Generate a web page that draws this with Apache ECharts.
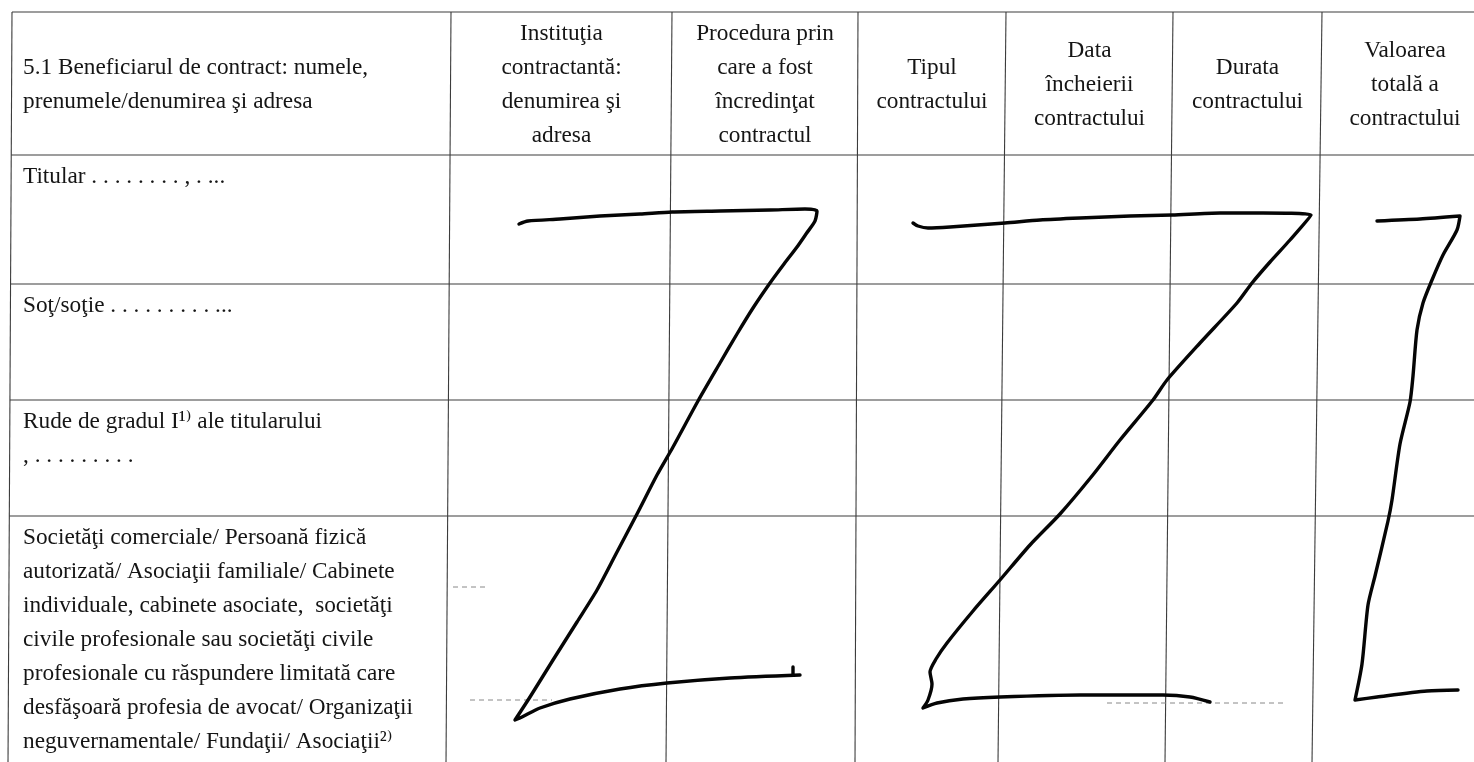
<!DOCTYPE html>
<html><head><meta charset="utf-8">
<script src="https://cdn.jsdelivr.net/npm/echarts@6/dist/echarts.min.js"></script>
<style>html,body{margin:0;padding:0;background:#fff}#c{width:1474px;height:762px}</style>
</head><body><div id="c"></div>
<script>
// ---- table ruling (page units = pixels of the scan) ----
const colEdgesTop    = [12, 451, 672, 858, 1006, 1173, 1322];
const colEdgesBottom = [8, 446, 666, 855, 998, 1165, 1312];
const rowEdges = [12, 155, 284, 400, 516];

// ---- header texts ----
const headerFirst = ['5.1 Beneficiarul de contract: numele,', 'prenumele/denumirea şi adresa'];
const headerCols = [
  ['Instituţia', 'contractantă:', 'denumirea şi', 'adresa'],
  ['Procedura prin', 'care a fost', 'încredinţat', 'contractul'],
  ['Tipul', 'contractului'],
  ['Data', 'încheierii', 'contractului'],
  ['Durata', 'contractului'],
  ['Valoarea', 'totală a', 'contractului']
];
// ---- row labels (first column) ----
const rowLabels = [
  ['Titular . . . . . . . . , . ...'],
  ['Soţ/soţie . . . . . . . . . ...'],
  ['Rude de gradul I¹⁾ ale titularului', ', . . . . . . . . .'],
  ['Societăţi comerciale/ Persoană fizică',
   'autorizată/ Asociaţii familiale/ Cabinete',
   'individuale, cabinete asociate,  societăţi',
   'civile profesionale sau societăţi civile',
   'profesionale cu răspundere limitată care',
   'desfăşoară profesia de avocat/ Organizaţii',
   'neguvernamentale/ Fundaţii/ Asociaţii²⁾']
];

// ---- handwritten "Z" strokes ----
const strokeZ1 = [[519,224],[528,221],[560,219],[600,216],[640,214],[672,212],[720,211],[770,210],[805,209],[817,211],[815,221],[806,234],[797,247],[784,264],[770,283],[753,308],[737,334],[720,363],[698,401],[673,447],[657,475],[637,514],[617,552],[597,590],[577,622],[553,660],[530,697],[515,720],[522,717],[540,708],[570,699],[620,689],[667,683],[730,678],[800,675]];
const strokeZ1Tick = [[793,675],[793,667]];
const strokeZ2 = [[913,223],[918,226],[928,228],[950,227],[1005,223],[1040,220],[1080,218],[1130,216],[1172,215],[1220,213],[1263,213],[1311,215],[1290,240],[1270,262],[1252,283],[1237,303],[1200,343],[1167,380],[1153,400],[1120,440],[1092,476],[1060,514],[1030,545],[1000,580],[973,611],[947,643],[936,659],[930,672],[932,684],[928,700],[923,708],[937,703],[963,699],[1000,697],[1080,695],[1163,695],[1190,697],[1210,702]];
const strokeZ3 = [[1377,221],[1420,219],[1460,216],[1457,230],[1443,255],[1432,280],[1423,303],[1417,330],[1413,376],[1410,402],[1400,444],[1392,500],[1388,521],[1375,576],[1368,605],[1362,664],[1355,700],[1377,697],[1427,691],[1458,690]];
// faint broken ruling fragments visible in the scan
const faintDashes = [[[470,700],[552,700]], [[1107,703],[1283,703]], [[453,587],[487,587]]];

const chart = echarts.init(document.getElementById('c'), null, {renderer: 'canvas'});
const W = 1474, H = 762;
const series = [];
const rule = {color: '#3c3c3c', width: 1.1};
for (let i = 0; i < colEdgesTop.length; i++) {
  series.push({type: 'line', data: [[colEdgesTop[i], rowEdges[0]], [colEdgesBottom[i], H]],
    symbol: 'none', silent: true, lineStyle: rule, z: 1});
}
rowEdges.forEach(function (y) {
  const t = (y - rowEdges[0]) / (H - rowEdges[0]);
  const x0 = colEdgesTop[0] + (colEdgesBottom[0] - colEdgesTop[0]) * t;
  series.push({type: 'line', data: [[x0, y], [W, y]], symbol: 'none', silent: true, lineStyle: rule, z: 1});
});
faintDashes.forEach(function (seg) {
  series.push({type: 'line', data: seg, symbol: 'none', silent: true,
    lineStyle: {color: '#888', width: 1, type: [5, 4]}, z: 1});
});
[strokeZ1, strokeZ1Tick, strokeZ2, strokeZ3].forEach(function (s) {
  series.push({type: 'line', data: s, symbol: 'none', silent: true, smooth: 0.25,
    lineStyle: {color: '#050505', width: 3.4, cap: 'round', join: 'round'}, z: 3});
});

chart.setOption({
  animation: false,
  backgroundColor: '#ffffff',
  grid: {left: 0, right: 0, top: 0, bottom: 0},
  xAxis: {type: 'value', min: 0, max: W, show: false},
  yAxis: {type: 'value', min: 0, max: H, inverse: true, show: false},
  series: series
});

// ---- texts, placed from the table ruling through the grid's scales ----
const FONT = '24px "Liberation Serif", "DejaVu Serif", serif';
const LH = 34;
const px = function (x, y) { return chart.convertToPixel({gridIndex: 0}, [x, y]); };
const graphics = [];
function addBlock(lines, x, yCenter, align) {
  const p = px(x, yCenter);
  graphics.push({type: 'text', x: p[0], y: p[1], scaleX: 0.97, silent: true, z: 5,
    style: {text: lines.join('\n'), font: FONT, fill: '#151515', align: align, verticalAlign: 'middle',
      textAlign: align, textVerticalAlign: 'middle', lineHeight: LH}});
}
const headerMid = (rowEdges[0] + rowEdges[1]) / 2 + 1;
addBlock(headerFirst, colEdgesTop[0] + 11, headerMid, 'left');
headerCols.forEach(function (lines, i) {
  const cx = (colEdgesTop[i + 1] + (colEdgesTop[i + 2] || (W + 14))) / 2;
  addBlock(lines, cx, headerMid, 'center');
});
// row labels sit at the top of their cells
rowLabels.forEach(function (lines, i) {
  const top = rowEdges[i + 1];
  const yc = top + 22 + (lines.length - 1) * LH / 2;
  addBlock(lines, colEdgesTop[0] + 11, yc, 'left');
});
chart.setOption({graphic: graphics});
</script></body></html>
